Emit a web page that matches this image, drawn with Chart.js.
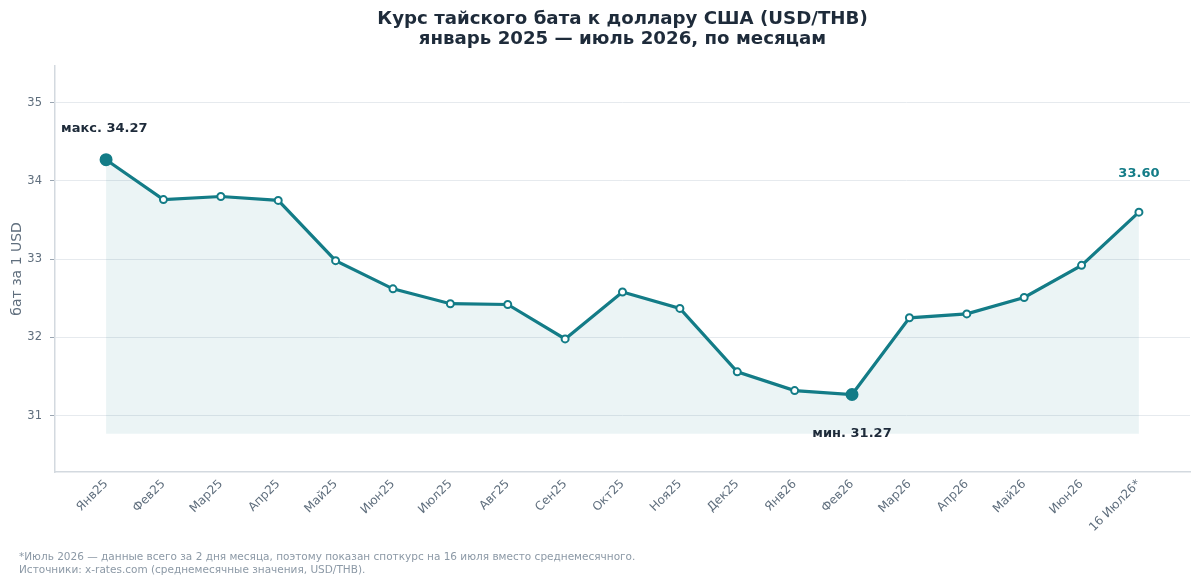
<!DOCTYPE html>
<html>
<head>
<meta charset="utf-8">
<script src="https://cdn.jsdelivr.net/npm/chart.js@4.4.1/dist/chart.umd.min.js"></script>
<style>
  body { margin: 0; background: #fff; }
  #wrap { position: relative; width: 1200px; height: 584px; }
  #note {
    position: absolute; left: 19px; top: 550px;
    font: 10.5px "DejaVu Sans", sans-serif; color: #8c99a6; line-height: 12.5px;
  }
</style>
</head>
<body>
<div id="wrap">
  <canvas id="chart_render" width="1200" height="584"></canvas>
  <div id="note">
    *Июль 2026 — данные всего за 2 дня месяца, поэтому показан споткурс на 16 июля вместо среднемесячного.<br>
    Источники: x-rates.com (среднемесячные значения, USD/THB).
  </div>
</div>
<script>
//// data

let monthLabels = ['Янв25', 'Фев25', 'Мар25', 'Апр25', 'Май25', 'Июн25', 'Июл25', 'Авг25', 'Сен25', 'Окт25',
    'Ноя25', 'Дек25', 'Янв26', 'Фев26', 'Мар26', 'Апр26', 'Май26', 'Июн26', '16 Июл26*'];
let rateValues = [34.27, 33.76, 33.80, 33.75, 32.98, 32.62, 32.43, 32.42, 31.98, 32.58,
    32.37, 31.56, 31.32, 31.27, 32.25, 32.30, 32.51, 32.92, 33.60];
let yTicks = [31, 32, 33, 34, 35];

//// helpers

let teal = '#137c87';
let maxIndex = rateValues.indexOf(Math.max(...rateValues));
let minIndex = rateValues.indexOf(Math.min(...rateValues));
let lastIndex = rateValues.length - 1;
let fillBase = rateValues[minIndex] - 0.5;

let points = rateValues.map(function(v, i) { return { x: i, y: v }; });

let pointRadius = rateValues.map(function(v, i) {
    return (i === maxIndex || i === minIndex) ? 5.5 : 3.5;
});
let pointFill = rateValues.map(function(v, i) {
    return (i === maxIndex || i === minIndex) ? teal : '#ffffff';
});

/// annotation text drawn at data positions
let labelPlugin = {
    id: 'labels',
    afterDatasetsDraw: function(chart) {
        let ctx = chart.ctx;
        let x = chart.scales.x;
        let y = chart.scales.y;
        ctx.save();
        ctx.font = 'bold 13px "DejaVu Sans", sans-serif';
        ctx.textBaseline = 'middle';

        ctx.fillStyle = '#1e2b3a';
        ctx.textAlign = 'left';
        ctx.fillText('макс. ' + rateValues[maxIndex].toFixed(2), x.getPixelForValue(maxIndex) - 45, y.getPixelForValue(rateValues[maxIndex]) - 31);

        ctx.textAlign = 'center';
        ctx.fillText('мин. ' + rateValues[minIndex].toFixed(2), x.getPixelForValue(minIndex), y.getPixelForValue(rateValues[minIndex]) + 39);

        ctx.fillStyle = teal;
        ctx.fillText(rateValues[lastIndex].toFixed(2), x.getPixelForValue(lastIndex), y.getPixelForValue(rateValues[lastIndex]) - 39);
        ctx.restore();
    }
};

let ctx = document.getElementById('chart_render').getContext('2d');
new Chart(ctx, {
    type: 'line',
    data: {
        datasets: [{
            label: 'USD/THB',
            data: points,
            borderColor: teal,
            borderWidth: 3.2,
            backgroundColor: 'rgba(19, 124, 135, 0.085)',
            fill: { value: fillBase },
            tension: 0,
            pointRadius: pointRadius,
            pointBackgroundColor: pointFill,
            pointBorderColor: teal,
            pointBorderWidth: 2
        }]
    },
    options: {
        responsive: false,
        animation: false,
        layout: { padding: { left: 9, right: 10, top: 0, bottom: 0 } },
        plugins: {
            legend: { display: false },
            tooltip: { enabled: false },
            title: {
                display: true,
                fullSize: false,
                text: ['Курс тайского бата к доллару США (USD/THB)', 'январь 2025 — июль 2026, по месяцам'],
                color: '#1e2b3a',
                font: { family: '"DejaVu Sans", sans-serif', size: 18.2, weight: 'bold', lineHeight: 1.12 },
                padding: { top: 9, bottom: 16 }
            }
        },
        scales: {
            x: {
                type: 'linear',
                min: -0.89,
                max: lastIndex + 0.89,
                afterBuildTicks: function(scale) {
                    scale.ticks = monthLabels.map(function(l, i) { return { value: i }; });
                },
                afterFit: function(scale) { scale.height = 112; },
                grid: { display: false, drawTicks: true, tickLength: 5, tickColor: '#9aa5b1' },
                border: { color: '#d3d9df', width: 1.5 },
                ticks: {
                    autoSkip: false,
                    maxRotation: 45,
                    minRotation: 45,
                    padding: 0,
                    color: '#5f6e7d',
                    font: { family: '"DejaVu Sans", sans-serif', size: 12 },
                    callback: function(v) { return monthLabels[v]; }
                }
            },
            y: {
                min: 30.28,
                max: 35.47,
                afterBuildTicks: function(scale) {
                    scale.ticks = yTicks.map(function(v) { return { value: v }; });
                },
                afterFit: function(scale) { scale.width = 46; },
                grid: { color: '#e6eaee', tickLength: 5, tickColor: '#9aa5b1' },
                border: { color: '#d3d9df', width: 1.5 },
                ticks: {
                    color: '#5f6e7d',
                    padding: 8,
                    font: { family: '"DejaVu Sans", sans-serif', size: 11.5 }
                },
                title: {
                    display: true,
                    text: 'бат за 1 USD',
                    color: '#5f6e7d',
                    font: { family: '"DejaVu Sans", sans-serif', size: 14 },
                    padding: { top: 0, bottom: 4 }
                }
            }
        }
    },
    plugins: [labelPlugin]
});
</script>
</body>
</html>
